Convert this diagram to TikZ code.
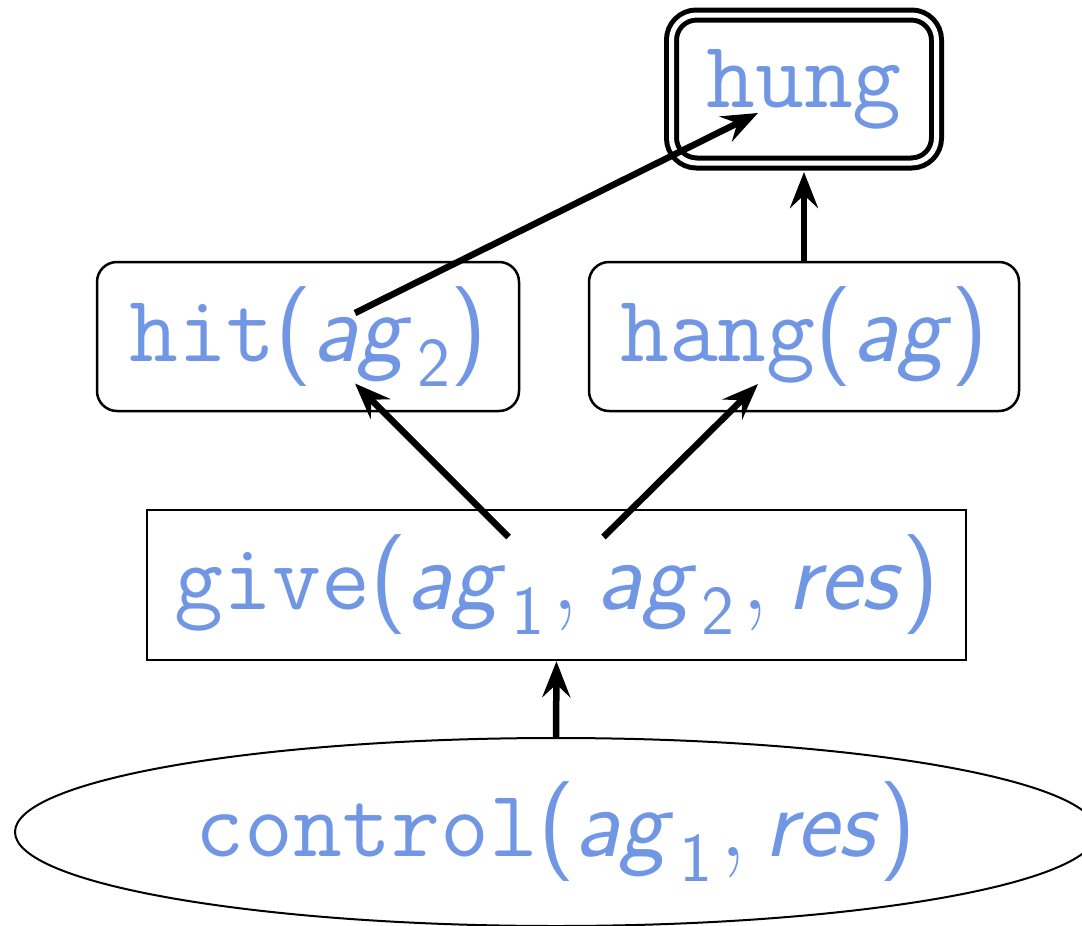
\documentclass[tikz,border=0pt]{standalone}
\usetikzlibrary{shapes.geometric,arrows.meta,calc}
\definecolor{txt}{RGB}{112,150,228}
\newcommand{\tw}[1]{{\fontsize{95}{110}\selectfont\ttfamily #1}}
\newcommand{\mv}[1]{\textsf{\itshape #1}}
\newcommand{\sbs}[1]{\kern0.06em\raisebox{-0.25em}{\fontsize{70}{74}\selectfont\sffamily #1}}
\newcommand{\prn}[1]{\textsf{#1}}
\newcommand{\cma}{\kern0.07em{\fontsize{110}{116}\selectfont\textrm{,}}\kern0.18em}
\begin{document}
\begin{tikzpicture}[x=1pt,y=-1pt,
  every node/.style={text=txt, font=\fontsize{100}{116}\selectfont, inner sep=0pt},
  rbox/.style={draw, line width=2.5pt, rounded corners=20pt, minimum width=422pt, minimum height=149pt},
  sbox/.style={draw, line width=2.5pt, minimum width=819pt, minimum height=150pt},
  dbox/.style={draw, double, line width=5pt, double distance=5pt, rounded corners=25pt, minimum width=265pt, minimum height=148pt, outer sep=9pt},
  ebox/.style={draw, ellipse, line width=2pt, minimum width=1082pt, minimum height=188pt, outer sep=0pt},
  arr/.style={line width=6.5pt, -{Stealth[length=36pt,width=28pt,inset=13pt]}}
]
\useasboundingbox (0,0) rectangle (1082,926);
\node[dbox] (hung) at (804,89) {\tw{hung}};
\node[rbox] (hit) at (308,336.5) {\tw{hit}\prn{(}\mv{ag}\sbs{2}\prn{)}};
\node[rbox, minimum width=430pt] (hang) at (804,336.5) {\tw{hang}\prn{(}\mv{ag}\prn{)}};
\node[sbox] (give) at (556.5,585) {\tw{give}\prn{(}\mv{ag}\sbs{1}\cma\mv{ag}\sbs{2}\cma\mv{res}\prn{)}};
\node[ebox] (control) at (556,832) {\tw{control}\prn{(}\mv{ag}\sbs{1}\cma\mv{res}\prn{)}};
\draw[arr] (control.north) -- (give.south);
\draw[arr] ($(give.center)+(-48,-48)$) -- ($(hit.center)+(47,47)$);
\draw[arr] ($(give.center)+(47,-48)$) -- ($(hang.center)+(-46,47.5)$);
\draw[arr] ($(hit.center)+(47,-23.5)$) -- ($(hung.center)+(-46,24)$);
\draw[arr] (hang.north) -- (hung.south);
\end{tikzpicture}
\end{document}
